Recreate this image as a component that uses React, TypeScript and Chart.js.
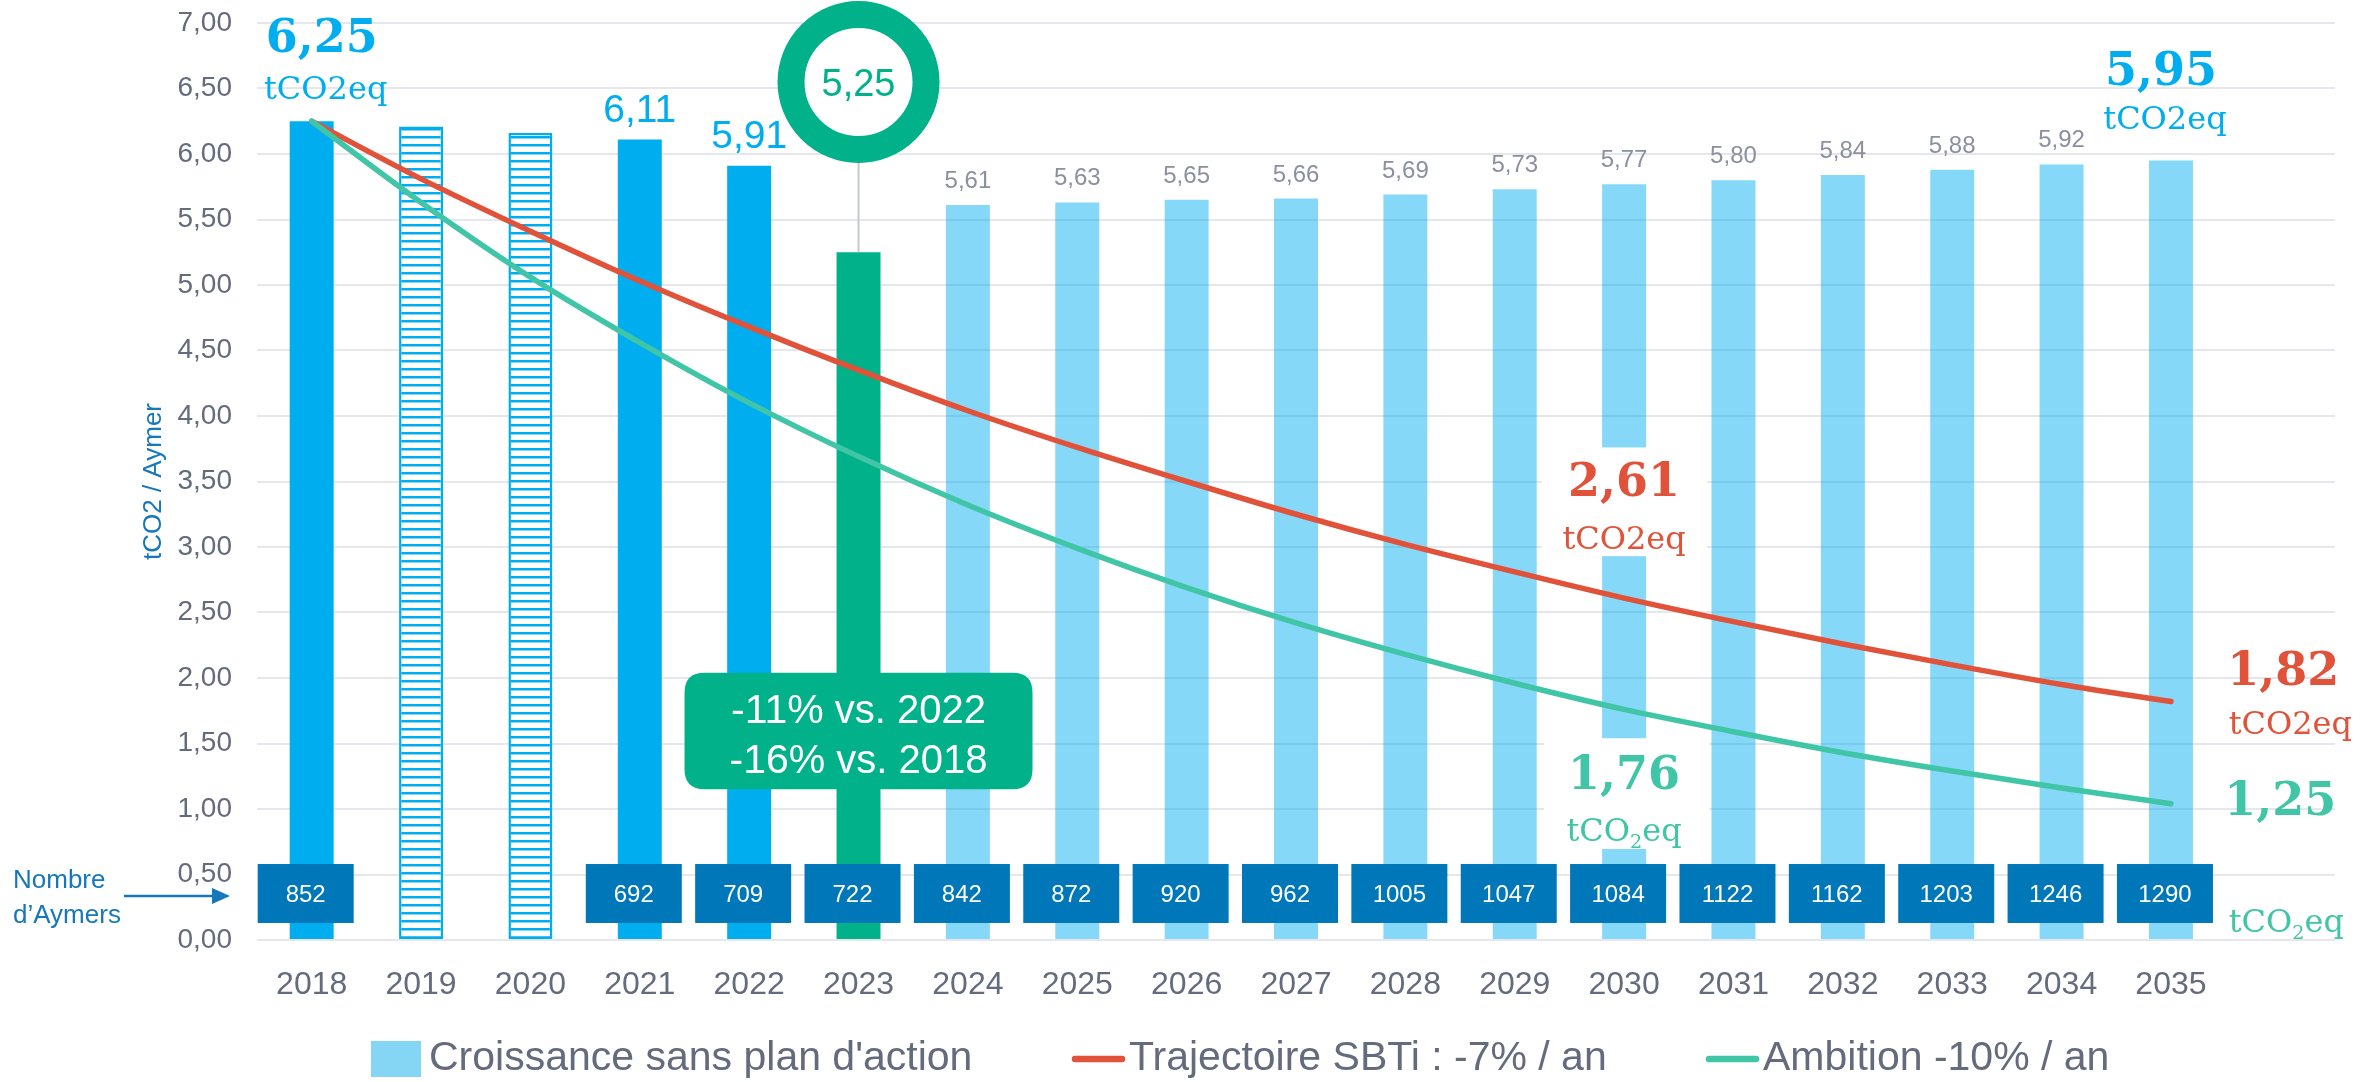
import { useEffect, useRef } from "react";
import { Chart, registerables } from "chart.js";

Chart.register(...registerables);

// ---------- data ----------
const years = ["2018", "2019", "2020", "2021", "2022", "2023", "2024", "2025", "2026", "2027", "2028", "2029", "2030", "2031", "2032", "2033", "2034", "2035"];
const categories = [...years, ""];
const emissions = [6.25, 6.21, 6.16, 6.11, 5.91, 5.25, 5.61, 5.63, 5.65, 5.66, 5.69, 5.73, 5.77, 5.80, 5.84, 5.88, 5.92, 5.95];
const barKinds = ["actual", "hatched", "hatched", "actual", "actual", "current", "proj", "proj", "proj", "proj", "proj", "proj", "proj", "proj", "proj", "proj", "proj", "proj"];
const sbti = [6.25, 5.81, 5.41, 5.03, 4.68, 4.35, 4.04, 3.76, 3.50, 3.25, 3.02, 2.81, 2.61, 2.43, 2.26, 2.10, 1.95, 1.82];
const ambition = [6.25, 5.63, 5.06, 4.56, 4.10, 3.69, 3.32, 2.99, 2.69, 2.42, 2.18, 1.96, 1.76, 1.59, 1.43, 1.29, 1.16, 1.04];
const aymers = [852, null, null, 692, 709, 722, 842, 872, 920, 962, 1005, 1047, 1084, 1122, 1162, 1203, 1246, 1290];
const legendLabels = ["Croissance sans plan d'action", "Trajectoire SBTi : -7% / an", "Ambition -10% / an"];
const calloutLines = [["-11%", " vs. 2022"], ["-16%", " vs. 2018"]];
const yAxisTitle = "tCO2 / Aymer";
const countTitle = ["Nombre", "d\u2019Aymers"];

// ---------- styles ----------
const SANS = '"Liberation Sans", Arial, sans-serif';
const SERIF = '"DejaVu Serif", serif';
const C_BLUE = "#00aeef";
const C_LIGHT = "rgba(0,174,239,0.48)";
const C_CURRENT = "#00b189";
const C_BOX = "#0077b9";
const C_RED = "#e0533a";
const C_GREEN = "#40c5a6";
const C_TICK = "#646b7d";
const C_LABEL = "#8a90a0";
const C_TITLE = "#1677ba";

const fmt = (v: number) => v.toFixed(2).replace(".", ",");

function makeHatch(): CanvasPattern | string {
  const c = document.createElement("canvas");
  c.width = 8;
  c.height = 8;
  const g = c.getContext("2d");
  if (!g) return C_BLUE;
  g.fillStyle = "#ffffff";
  g.fillRect(0, 0, 8, 8);
  g.fillStyle = C_BLUE;
  g.fillRect(0, 0, 8, 2.5);
  return g.createPattern(c, "repeat") || C_BLUE;
}

function text(ctx: CanvasRenderingContext2D, s: string, x: number, y: number, font: string, color: string, align: CanvasTextAlign = "center", baseline: CanvasTextBaseline = "alphabetic") {
  ctx.font = font;
  ctx.fillStyle = color;
  ctx.textAlign = align;
  ctx.textBaseline = baseline;
  ctx.fillText(s, x, y);
}

function tco2(ctx: CanvasRenderingContext2D, cx: number, y: number, color: string, sub: boolean) {
  const size = 32;
  if (!sub) {
    text(ctx, "tCO2eq", cx, y, `${size}px ${SERIF}`, color);
    return;
  }
  ctx.font = `${size}px ${SERIF}`;
  const w1 = ctx.measureText("tCO").width;
  const w3 = ctx.measureText("eq").width;
  ctx.font = `${size * 0.6}px ${SERIF}`;
  const w2 = ctx.measureText("2").width;
  let x = cx - (w1 + w2 + w3) / 2;
  text(ctx, "tCO", x, y, `${size}px ${SERIF}`, color, "left");
  x += w1;
  text(ctx, "2", x, y + 7, `${size * 0.6}px ${SERIF}`, color, "left");
  x += w2;
  text(ctx, "eq", x, y, `${size}px ${SERIF}`, color, "left");
}

function roundRect(ctx: CanvasRenderingContext2D, x: number, y: number, w: number, h: number, r: number) {
  ctx.beginPath();
  ctx.moveTo(x + r, y);
  ctx.lineTo(x + w - r, y);
  ctx.quadraticCurveTo(x + w, y, x + w, y + r);
  ctx.lineTo(x + w, y + h - r);
  ctx.quadraticCurveTo(x + w, y + h, x + w - r, y + h);
  ctx.lineTo(x + r, y + h);
  ctx.quadraticCurveTo(x, y + h, x, y + h - r);
  ctx.lineTo(x, y + r);
  ctx.quadraticCurveTo(x, y, x + r, y);
  ctx.closePath();
}

const annotate = {
  id: "annotate",
  afterDatasetsDraw(chart: any) {
    const ctx: CanvasRenderingContext2D = chart.ctx;
    const xs = chart.scales.x;
    const ys = chart.scales.y;
    const X = (i: number) => xs.getPixelForValue(i);
    const Y = (v: number) => ys.getPixelForValue(v);
    const area = chart.chartArea;
    ctx.save();

    // white masks behind the 2030 labels
    const i30 = years.indexOf("2030");
    ctx.fillStyle = "#ffffff";
    ctx.fillRect(X(i30) - 82, Y(3.76), 165, Y(2.93) - Y(3.76));
    ctx.fillRect(X(i30) - 80, Y(1.54), 165, Y(0.695) - Y(1.54));

    // value labels on bars
    emissions.forEach((v, i) => {
      const k = barKinds[i];
      const top = Y(v);
      if (k === "actual" && i > 0) {
        text(ctx, fmt(v), X(i), top - 18, `39px ${SANS}`, C_BLUE);
      } else if (k === "proj" && i < emissions.length - 1) {
        text(ctx, fmt(v), X(i), top - 17, `24px ${SANS}`, C_LABEL);
      }
    });

    // number of Aymers boxes
    aymers.forEach((n, i) => {
      if (n == null) return;
      const cx = X(i) - 6;
      const t = Y(0.58);
      const b = Y(0.13);
      ctx.fillStyle = C_BOX;
      ctx.fillRect(cx - 48, t, 96, b - t);
      text(ctx, String(n), cx, (t + b) / 2 + 2, `24px ${SANS}`, "#ffffff", "center", "middle");
    });

    // 2023 ring + connector
    const i23 = years.indexOf("2023");
    const rcx = X(i23);
    const rcy = Y(6.55);
    ctx.strokeStyle = "#c5c9d0";
    ctx.lineWidth = 2;
    ctx.beginPath();
    ctx.moveTo(rcx, rcy + 80);
    ctx.lineTo(rcx, Y(emissions[i23]));
    ctx.stroke();
    ctx.beginPath();
    ctx.arc(rcx, rcy, 54, 0, Math.PI * 2);
    ctx.fillStyle = "#ffffff";
    ctx.fill();
    ctx.beginPath();
    ctx.arc(rcx, rcy, 67.5, 0, Math.PI * 2);
    ctx.strokeStyle = C_CURRENT;
    ctx.lineWidth = 27;
    ctx.stroke();
    text(ctx, fmt(emissions[i23]), rcx, rcy + 4, `38px ${SANS}`, C_CURRENT, "center", "middle");

    // callout
    const ct = Y(2.04);
    const cb = Y(1.15);
    roundRect(ctx, rcx - 174, ct, 348, cb - ct, 20);
    ctx.fillStyle = C_CURRENT;
    ctx.fill();
    [Y(1.656), Y(1.275)].forEach((by, li) => {
      const [a, b] = calloutLines[li];
      ctx.font = `41px ${SANS}`;
      const wa = ctx.measureText(a).width;
      ctx.font = `40px ${SANS}`;
      const wb = ctx.measureText(b).width;
      const sx = rcx - (wa + wb) / 2;
      text(ctx, a, sx, by, `41px ${SANS}`, "#ffffff", "left");
      text(ctx, b, sx + wa, by, `40px ${SANS}`, "#ffffff", "left");
    });

    // big serif labels
    const BIG = `bold 46px ${SERIF}`;
    text(ctx, fmt(emissions[0]), X(0) + 10, Y(6.78), BIG, C_BLUE);
    tco2(ctx, X(0) + 14, Y(6.42), C_BLUE, false);
    const last = emissions.length - 1;
    text(ctx, fmt(emissions[last]), X(last) - 10, Y(6.53), BIG, C_BLUE);
    tco2(ctx, X(last) - 6, Y(6.19), C_BLUE, false);
    text(ctx, fmt(sbti[i30]), X(i30), Y(3.39), BIG, C_RED);
    tco2(ctx, X(i30), Y(2.985), C_RED, false);
    text(ctx, fmt(ambition[i30]), X(i30), Y(1.15), BIG, C_GREEN);
    tco2(ctx, X(i30), Y(0.755), C_GREEN, true);
    const ie = categories.length - 1;
    text(ctx, fmt(sbti[last]), X(ie) + 3, Y(1.95), BIG, C_RED);
    tco2(ctx, X(ie) + 10, Y(1.57), C_RED, false);
    text(ctx, "1,25", X(ie), Y(0.955), BIG, C_GREEN);
    tco2(ctx, X(ie) + 6, Y(0.06), C_GREEN, true);

    // y axis title
    ctx.save();
    ctx.translate(area.left - 103, (area.top + area.bottom) / 2);
    ctx.rotate(-Math.PI / 2);
    text(ctx, yAxisTitle, 0, 0, `26px ${SANS}`, C_TITLE, "center", "middle");
    ctx.restore();

    // Nombre d'Aymers + arrow
    text(ctx, countTitle[0], 13, Y(0.397), `26px ${SANS}`, C_TITLE, "left");
    text(ctx, countTitle[1], 13, Y(0.13), `26px ${SANS}`, C_TITLE, "left");
    const ay = Y(0.336);
    ctx.strokeStyle = C_TITLE;
    ctx.lineWidth = 2.5;
    ctx.beginPath();
    ctx.moveTo(124, ay);
    ctx.lineTo(214, ay);
    ctx.stroke();
    ctx.fillStyle = C_TITLE;
    ctx.beginPath();
    ctx.moveTo(230, ay);
    ctx.lineTo(212, ay - 8);
    ctx.lineTo(212, ay + 8);
    ctx.closePath();
    ctx.fill();

    // legend
    const ly = area.bottom + 119;
    ctx.fillStyle = "#85d6f5";
    ctx.fillRect(371, ly - 18, 50, 36);
    text(ctx, legendLabels[0], 429, ly, `41px ${SANS}`, C_TICK, "left", "middle");
    ctx.lineCap = "round";
    ctx.lineWidth = 6.5;
    ctx.strokeStyle = C_RED;
    ctx.beginPath();
    ctx.moveTo(1075, ly);
    ctx.lineTo(1122, ly);
    ctx.stroke();
    text(ctx, legendLabels[1], 1129, ly, `41px ${SANS}`, C_TICK, "left", "middle");
    ctx.strokeStyle = C_GREEN;
    ctx.beginPath();
    ctx.moveTo(1709, ly);
    ctx.lineTo(1756, ly);
    ctx.stroke();
    text(ctx, legendLabels[2], 1763, ly, `41px ${SANS}`, C_TICK, "left", "middle");

    ctx.restore();
  },
};

export default function App() {
  const ref = useRef<HTMLCanvasElement>(null);
  useEffect(() => {
    const canvas = ref.current;
    if (!canvas) return;
    const hatch = makeHatch();
    const bg = barKinds.map((k) => (k === "actual" ? C_BLUE : k === "hatched" ? hatch : k === "current" ? C_CURRENT : C_LIGHT));
    const bc = barKinds.map((k) => (k === "hatched" ? C_BLUE : "rgba(0,0,0,0)"));
    const bw = barKinds.map((k) => (k === "hatched" ? 2.5 : 0));
    const chart = new Chart(canvas, {
      type: "bar",
      data: {
        labels: categories,
        datasets: [
          {
            type: "line",
            label: legendLabels[1],
            data: [...sbti, null],
            borderColor: C_RED,
            borderWidth: 5.5,
            pointRadius: 0,
            cubicInterpolationMode: "monotone",
            borderCapStyle: "round",
            fill: false,
            order: 1,
          } as any,
          {
            type: "line",
            label: legendLabels[2],
            data: [...ambition, null],
            borderColor: C_GREEN,
            borderWidth: 5.5,
            pointRadius: 0,
            cubicInterpolationMode: "monotone",
            borderCapStyle: "round",
            fill: false,
            order: 0,
          } as any,
          {
            type: "bar",
            label: legendLabels[0],
            data: [...emissions, null],
            backgroundColor: bg as any,
            borderColor: bc,
            borderWidth: bw,
            borderSkipped: false,
            barPercentage: 0.402,
            categoryPercentage: 1,
            order: 5,
          } as any,
        ],
      },
      options: {
        animation: false,
        responsive: false,
        maintainAspectRatio: false,
        devicePixelRatio: 1,
        layout: { padding: { left: 0, right: 42, top: 23, bottom: 0 } },
        plugins: { legend: { display: false }, tooltip: { enabled: false } },
        scales: {
          x: {
            type: "category",
            offset: true,
            grid: { display: false },
            border: { display: false },
            ticks: { color: C_TICK, font: { family: SANS, size: 32 }, padding: 18, maxRotation: 0, autoSkip: false },
            afterFit: (s: any) => {
              s.height = 142;
              s.paddingLeft = 0;
              s.paddingRight = 0;
            },
          },
          y: {
            min: 0,
            max: 7,
            ticks: { stepSize: 0.5, color: C_TICK, font: { family: SANS, size: 28 }, padding: 25, callback: (v: any) => fmt(Number(v)) },
            grid: { color: "#e6e7ec", lineWidth: 2, drawTicks: false },
            border: { display: false },
            afterFit: (s: any) => {
              s.width = 257;
              s.paddingTop = 0;
              s.paddingBottom = 0;
            },
          },
        },
      },
      plugins: [annotate],
    });
    return () => chart.destroy();
  }, []);
  return (
    <div style={{ position: "fixed", left: 0, top: 0, width: 2377, height: 1082, background: "#ffffff" }}>
      <canvas ref={ref} width={2377} height={1082} style={{ width: 2377, height: 1082, display: "block" }} />
    </div>
  );
}
